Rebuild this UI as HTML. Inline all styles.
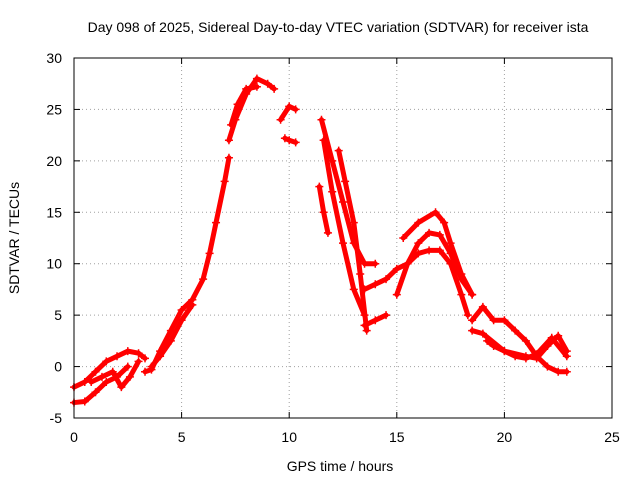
<!DOCTYPE html>
<html><head><meta charset="utf-8"><style>
body{margin:0;background:#fff;}
svg{display:block;font-family:"Liberation Sans",sans-serif;}
</style></head><body>
<svg id="chart" width="640" height="480">
<rect width="640" height="480" fill="#fff"/>
<text x="338" y="32" font-size="14" text-anchor="middle">Day 098 of 2025, Sidereal Day-to-day VTEC variation (SDTVAR) for receiver ista</text>
<text x="340" y="471" font-size="14" text-anchor="middle">GPS time / hours</text>
<text transform="translate(19,238) rotate(-90)" font-size="14" text-anchor="middle">SDTVAR / TECUs</text>
<g id="grid"></g>
<g id="ticks"></g>
<g id="marks"></g>
<rect x="74" y="58" width="538" height="360" fill="none" stroke="#000"/>
</svg>
<script>
const xTicks=[0,5,10,15,20,25];
const yTicks=[-5,0,5,10,15,20,25,30];
const tA=[0,0.5,1,1.5,2,2.5];
const vA=[-3.5,-3.4,-2.5,-1.5,-1,0];
const tB=[0,0.5,1,1.5,2,2.5,3,3.3];
const vB=[-2,-1.5,-0.5,0.5,1,1.5,1.3,0.8];
const tC=[0.8,1.3,1.8,2.2,2.6,3];
const vC=[-1.5,-1,-0.5,-2,-1,0.5];
const tD=[3.3,3.6,4,4.5,5,5.5,6,6.3,6.6,7,7.2];
const vD=[-0.5,-0.3,1.5,3.5,5.5,6.5,8.5,11,14,18,20.3];
const tE=[3.6,4,4.5,5,5.5];
const vE=[0,1,2.5,4.5,6];
const tF=[7.2,7.5,8,8.5,9,9.3];
const vF=[22,24,26.5,28,27.5,27];
const tG=[7.3,7.6,8,8.5];
const vG=[23.5,25.5,27,27.2];
const tH=[9.6,10,10.3];
const vH=[24,25.3,25];
const tI=[9.8,10,10.3];
const vI=[22.2,22,21.8];
const tJ=[11.5,12,12.5,13,13.5,14];
const vJ=[24,20,16,12,10,10];
const tK=[11.4,11.6,11.8];
const vK=[17.5,15,13];
const tL=[12.3,12.6,13,13.3,13.6];
const vL=[21,18,14,9,3.5];
const tM=[11.6,12,12.5,13,13.5];
const vM=[22,17,12,7.5,5];
const tN=[13.5,14,14.5,15,15.5,16,16.5,17,17.5,18,18.3];
const vN=[7.5,8,8.5,9.5,10,11,11.3,11.3,10,7,5];
const tO=[15,15.5,16,16.5,17,17.5,18,18.5];
const vO=[7,10,12,13,12.8,11,8.5,7];
const tP=[15.3,16,16.8,17.2,17.5,18,18.5];
const vP=[12.5,14,15,14,12,9,7];
const tQ=[13.5,14,14.5];
const vQ=[4,4.5,5];
const tR=[18.5,19,19.5,20,20.5,21,21.5,22,22.5,22.9];
const vR=[4.5,5.8,4.5,4.5,3.5,2.5,1,0,-0.5,-0.5];
const tS=[18.5,19,20,21,21.5,22,22.5,22.9];
const vS=[3.5,3.2,1.5,1,0.8,2,3,1.5];
const tU=[19.2,19.5,20,20.5,21,21.5,22.2,22.9];
const vU=[2.5,2,1.5,1,0.8,1.2,2.8,1];
const allT=[tA,tB,tC,tD,tE,tF,tG,tH,tI,tJ,tK,tL,tM,tN,tO,tP,tQ,tR,tS,tU];
const allV=[vA,vB,vC,vD,vE,vF,vG,vH,vI,vJ,vK,vL,vM,vN,vO,vP,vQ,vR,vS,vU];
const NS="http://www.w3.org/2000/svg";
const X=t=>74+t*538/25, Y=v=>418-(v+5)*360/35;
const grid=document.getElementById('grid'),ticks=document.getElementById('ticks'),marks=document.getElementById('marks');
function mk(tag,a,p){const e=document.createElementNS(NS,tag);for(const k in a)e.setAttribute(k,a[k]);p.appendChild(e);return e;}
xTicks.forEach(t=>{const x=X(t);
 if(t>0&&t<25){const l=mk('line',{x1:x,x2:x,y1:58,y2:418,stroke:'#a0a0a0','stroke-dasharray':'1,3'},grid);
 
 }
 mk('line',{x1:x,x2:x,y1:418,y2:412,stroke:'#000'},ticks);mk('line',{x1:x,x2:x,y1:58,y2:64,stroke:'#000'},ticks);
 const tx=mk('text',{x:x,y:442,'font-size':14,'text-anchor':'middle'},ticks);tx.textContent=t;
 
 });
yTicks.forEach(v=>{const y=Y(v);
 if(v>-5&&v<30){const l=mk('line',{x1:74,x2:612,y1:y,y2:y,stroke:'#a0a0a0','stroke-dasharray':'1,3'},grid);
 
 }
 mk('line',{x1:74,x2:80,y1:y,y2:y,stroke:'#000'},ticks);mk('line',{x1:612,x2:606,y1:y,y2:y,stroke:'#000'},ticks);
 const tx=mk('text',{x:62,y:y+5,'font-size':14,'text-anchor':'end'},ticks);tx.textContent=v;
 
 });
allT.forEach((ts,i)=>{const vs=allV[i];
 const pts=ts.map((t,j)=>X(t)+','+Y(vs[j])).join(' ');
 const pl=mk('polyline',{points:pts,fill:'none',stroke:'#ff0000','stroke-width':5,'stroke-linejoin':'round','stroke-linecap':'round'},marks);
 
 
 ts.forEach((t,j)=>{const x=X(t),y=Y(vs[j]);
  const p=mk('path',{d:`M${x-4},${y}H${x+4}M${x},${y-4}V${y+4}`,stroke:'#ff0000','stroke-width':1.5},marks);
  
  });
});
</script>
</body></html>
